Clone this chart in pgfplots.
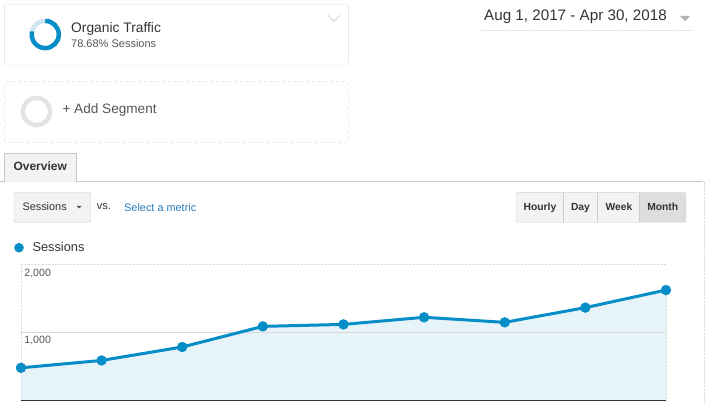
\documentclass[border=0pt]{standalone}
\usepackage{fontspec}
\setmainfont{Liberation Sans}
\usepackage{pgfplots}
\pgfplotsset{compat=1.18}
\definecolor{gablue}{HTML}{058DC7}
\definecolor{gafill}{HTML}{E6F3F9}
\definecolor{ringlight}{HTML}{CFE4EF}
\definecolor{ringgray}{HTML}{E3E3E3}
\definecolor{boxline}{HTML}{DDDDDD}
\definecolor{txt}{HTML}{333333}
\definecolor{subtxt}{HTML}{555555}
\definecolor{linkc}{HTML}{2A7AB8}
\definecolor{btnfill}{HTML}{F3F3F3}
\definecolor{btnsel}{HTML}{DEDEDE}
\newcommand{\fs}[1]{\fontsize{#1}{#1}\selectfont}

\pgfplotstableread{
m sessions
0 476
1 584
2 781
3 1083
4 1112
5 1216
6 1142
7 1358
8 1615
}\sessions

\begin{document}
\begin{tikzpicture}[x=1pt,y=1pt]
\useasboundingbox (0,0) rectangle (709,402);

% segment boxes
\draw[boxline,rounded corners=2pt] (4.3,337) rectangle (348.3,397.7);
\draw[ringlight,line width=4.5pt] (45.2,367.5) ++(-193.2:13.6) arc[start angle=-193.2,end angle=-270,radius=13.6];
\draw[gablue,line width=4.5pt] (45.2,367.5) ++(90:13.6) arc[start angle=90,end angle=-193.2,radius=13.6];
\node[anchor=base west,inner sep=0,text=txt] at (71,369.7) {\fs{13.8}Organic Traffic};
\node[anchor=base west,inner sep=0,text=subtxt] at (71,354.3) {\fs{11}78.68\% Sessions};
\draw[boxline,line width=1pt] (328,387) -- (334,380.5) -- (340,387);

\draw[boxline,dashed,rounded corners=2pt] (4.3,259.3) rectangle (348.3,320.3);
\draw[ringgray,line width=4.5pt] (36.5,290.5) circle[radius=13.6];
\node[anchor=base west,inner sep=0,text=subtxt] at (62.3,288) {\fs{13.6}+ Add Segment};

% date range
\node[anchor=base west,inner sep=0,text=txt] at (484,381) {\fs{15.2}Aug 1, 2017 - Apr 30, 2018};
\fill[gray!60] (680,386) -- (690,386) -- (685,381) -- cycle;
\draw[boxline,densely dotted] (481,371.3) -- (692,371.3);

% tab
\draw[gray!45] (0,220.3) -- (4,220.3);
\draw[gray!45,fill=btnfill] (4,220.3) -- (4,248.7) -- (75.7,248.7) -- (75.7,220.3);
\draw[gray!45] (75.7,220.3) -- (703,220.3);
\node[anchor=base west,inner sep=0,text=txt] at (13.3,231.3) {\fs{12}\bfseries Overview};
\draw[boxline,densely dotted] (704,220.3) -- (704,0);

% metric selector
\draw[gray!40,fill=btnfill,rounded corners=2pt] (14,179.7) rectangle (90.7,209.7);
\node[anchor=base west,inner sep=0,text=txt] at (22.3,191) {\fs{10.9}Sessions};
\fill[subtxt] (76.7,196) -- (81.7,196) -- (79.2,193.5) -- cycle;
\node[anchor=base west,inner sep=0,text=txt] at (96.7,192) {\fs{11}vs.};
\node[anchor=base west,inner sep=0,text=linkc] at (124,190.3) {\fs{10.9}Select a metric};

% period buttons
\fill[btnfill] (516,179.7) rectangle (639.3,209.3);
\fill[btnsel] (639.3,179.7) rectangle (686,209.3);
\draw[gray!40,rounded corners=2pt] (516,179.7) rectangle (686,209.3);
\foreach \xx in {563.3,597.3,639.3} \draw[gray!40] (\xx,179.7) -- (\xx,209.3);
\foreach \xx/\lab in {540/Hourly,580.5/Day,619/Week,662.7/Month}
  \node[anchor=base,inner sep=0,text=txt] at (\xx,191.3) {\fs{10.3}\bfseries \lab};

% legend
\fill[gablue] (19,154.3) circle[radius=4.8];
\node[anchor=base west,inner sep=0,text=txt] at (32.3,150.3) {\fs{12.8}Sessions};

\begin{axis}[
  at={(26,2.5)}, anchor=south west,
  scale only axis, width=645pt, height=136.5pt,
  xmin=0, xmax=8, ymin=0, ymax=2000,
  hide axis, clip=false]
\addplot[fill=gafill,draw=none] table[x=m,y=sessions]{\sessions} \closedcycle;
\draw[boxline,densely dotted] (axis cs:0,2000) -- (axis cs:8,2000);
\draw[boxline,densely dotted] (axis cs:0,0) -- (axis cs:0,2000);
\draw[boxline,densely dotted] (axis cs:8,0) -- (axis cs:8,1615);
\draw[black!15] (axis cs:0,1000) -- (axis cs:8,1000);
\draw[txt,line width=1pt] (axis cs:0,0) -- (axis cs:8,0);
\addplot[gablue,line width=3pt,mark=*,mark size=3.6pt,mark options={solid}] table[x=m,y=sessions]{\sessions};
\node[anchor=base west,inner sep=0,text=subtxt] at (axis cs:0.04,1815) {\fs{10.6}2,000};
\node[anchor=base west,inner sep=0,text=subtxt] at (axis cs:0.04,830) {\fs{10.6}1,000};
\end{axis}
\end{tikzpicture}
\end{document}
